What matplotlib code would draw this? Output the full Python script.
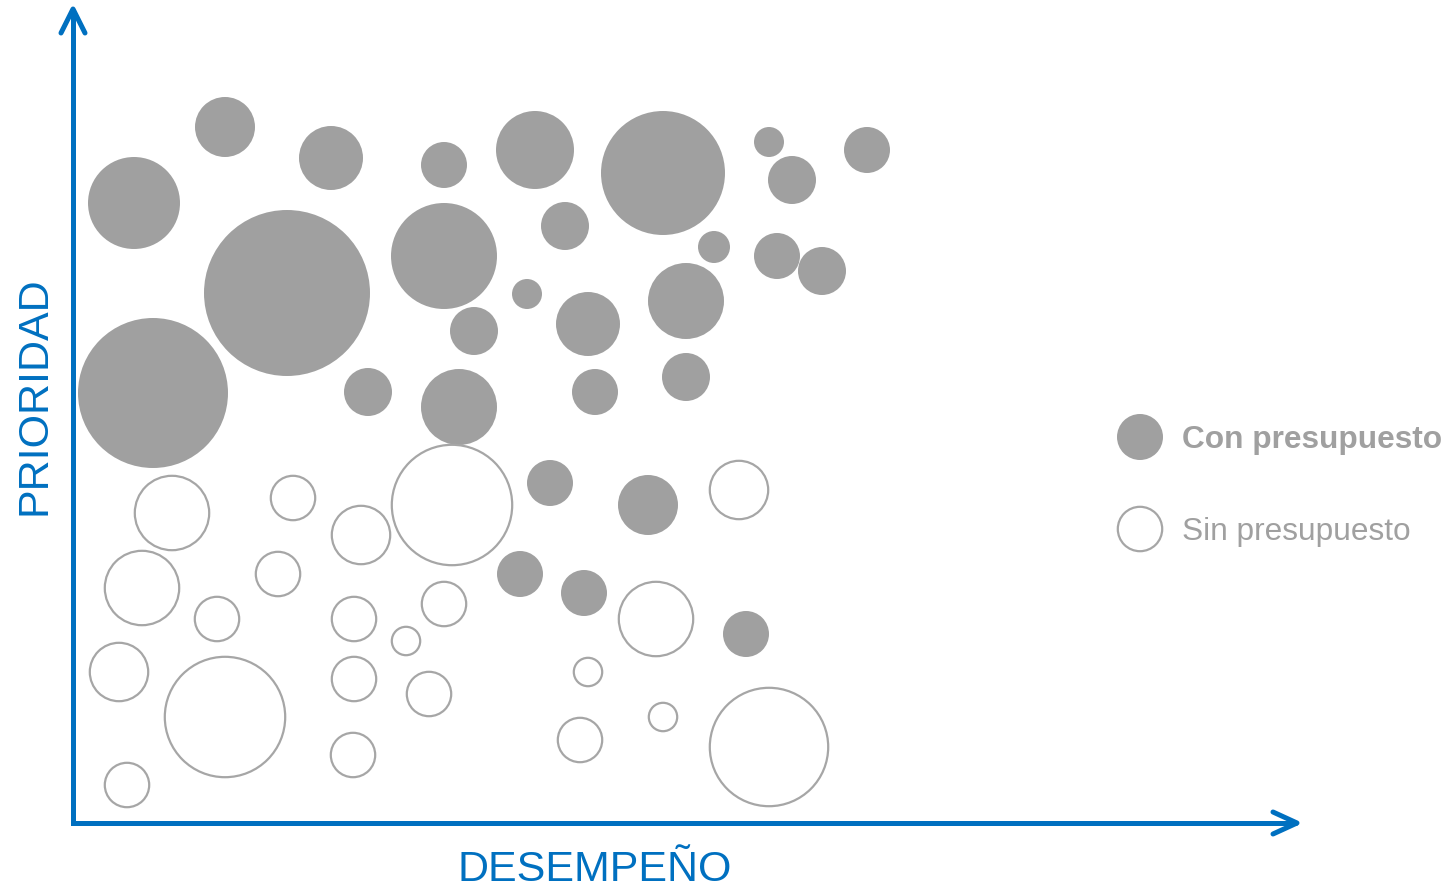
import matplotlib
matplotlib.use("Agg")
import matplotlib.pyplot as plt
from matplotlib.patches import Circle

# posiciones (desempeño, prioridad) y radio de cada burbuja, medidos desde el origen de los ejes
con_x = [152, 258, 371, 462, 590, 696, 794, 61, 214, 371, 492, 719, 641, 704, 749,
         454, 401, 515, 613, 80, 295, 386, 522, 613, 477, 575, 447, 511, 673]
con_y = [696, 665, 658, 673, 650, 681, 673, 620, 530, 567, 597, 643, 576, 567, 552,
         529, 492, 499, 522, 430, 431, 416, 431, 446, 340, 318, 249, 230, 189]
con_r = [30, 32, 23, 39, 62, 15, 23, 46, 83, 53, 24, 24, 16, 23, 24,
         15, 24, 32, 38, 75, 24, 38, 23, 24, 23, 30, 23, 23, 23]

sin_x = [99, 220, 379, 288, 666, 69, 205, 144, 281, 371, 333, 583, 46, 152, 281,
         356, 515, 590, 507, 696, 280, 54]
sin_y = [310, 325, 318, 288, 333, 235, 249, 204, 204, 219, 182, 204, 151, 106, 144,
         129, 151, 106, 83, 76, 68, 38]
sin_r = [38, 23, 61, 30, 30, 38, 23, 23, 23, 23, 15, 38, 30, 61, 23,
         23, 15, 15, 23, 60, 23, 23]

leyenda = ["Con presupuesto", "Sin presupuesto"]
titulo_x = "DESEMPEÑO"
titulo_y = "PRIORIDAD"

azul = "#0070C0"
gris = "#A0A0A0"
gris_linea = "#A6A6A6"

fig = plt.figure(figsize=(14.5, 8.91), dpi=100)
ax = fig.add_axes([0, 0, 1, 1])
ax.set_xlim(-73, 1377)
ax.set_ylim(-68, 823)
ax.set_aspect("equal")
ax.axis("off")

for x, y, r in zip(con_x, con_y, con_r):
    ax.add_patch(Circle((x, y), r, facecolor=gris, edgecolor="none"))
for x, y, r in zip(sin_x, sin_y, sin_r):
    ax.add_patch(Circle((x, y), r - 0.8, facecolor="white", edgecolor=gris_linea, linewidth=1.6))

# ejes con flecha abierta
lw = 3.6
ax.plot([0, 0, 1224], [814, 0, 0], color=azul, lw=lw, solid_capstyle="butt", solid_joinstyle="miter")
ax.plot([-12, 0, 12], [790, 814, 790], color=azul, lw=lw, solid_capstyle="round")
ax.plot([1200, 1224, 1200], [11, 0, -11], color=azul, lw=lw, solid_capstyle="round")

ax.text(522, -58, titulo_x, color=azul, fontsize=31, family="Liberation Sans",
        ha="center", va="baseline")
ax.text(-38, 427, titulo_y, color=azul, fontsize=31, family="Liberation Sans",
        ha="center", va="center", rotation=90)

# leyenda
ax.add_patch(Circle((1067, 386), 23, facecolor=gris, edgecolor="none"))
ax.add_patch(Circle((1067, 294), 22.2, facecolor="white", edgecolor=gris_linea, linewidth=1.6))
ax.text(1109, 383, leyenda[0], color=gris, fontsize=22.8, fontweight="bold",
        family="Liberation Sans", ha="left", va="center")
ax.text(1109, 291, leyenda[1], color=gris, fontsize=22.8,
        family="Liberation Sans", ha="left", va="center")

fig.savefig("out.png", dpi=100)
